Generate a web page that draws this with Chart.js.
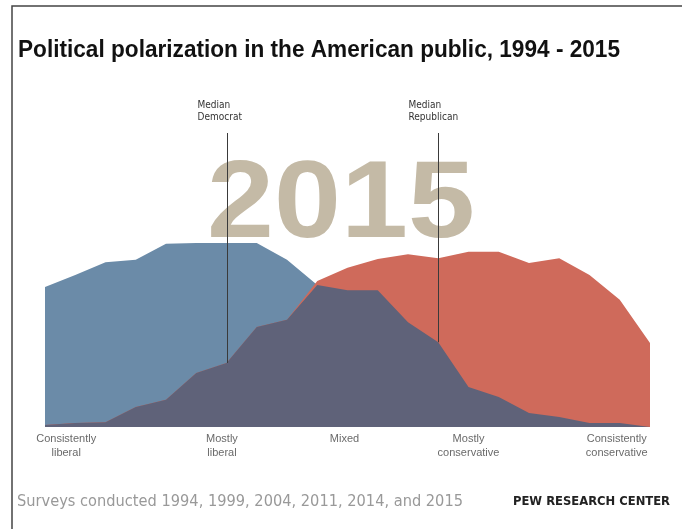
<!DOCTYPE html>
<html>
<head>
<meta charset="utf-8">
<script src="https://cdn.jsdelivr.net/npm/chart.js@4.4.1/dist/chart.umd.min.js"></script>
<style>
  body { margin: 0; background: #fff; }
  #wrap { width: 682px; height: 529px; }
</style>
</head>
<body>
<div id="wrap"><canvas id="chart" width="682" height="529"></canvas></div>
<script>
// Ideological consistency scale, -10 (consistently liberal) .. +10 (consistently conservative)
const scores = [-10, -9, -8, -7, -6, -5, -4, -3, -2, -1, 0, 1, 2, 3, 4, 5, 6, 7, 8, 9, 10];

// share of each party at each score
const demShare = [3.5, 3.8, 4.12, 4.18, 4.58, 4.6, 4.6, 4.6, 4.18, 3.55, 3.42, 3.42, 2.62, 2.12, 1.0, 0.75, 0.35, 0.25, 0.1, 0.1, 0.0];
const repShare = [0.05, 0.1, 0.12, 0.5, 0.68, 1.35, 1.6, 2.5, 2.68, 3.65, 3.98, 4.2, 4.32, 4.22, 4.38, 4.38, 4.1, 4.22, 3.8, 3.18, 2.1];

// where the bottom labels sit on the scale
const catLabels = [['Consistently', 'liberal'], ['Mostly', 'liberal'], ['Mixed'], ['Mostly', 'conservative'], ['Consistently', 'conservative']];
const catPos = [-9.3, -4.15, -0.1, 4.0, 8.9];

const medianLabels = [['Median', 'Democrat'], ['Median', 'Republican']];
const medianPos = [-4, 3];

const yearLabel = '2015';
const titleText = 'Political polarization in the American public, 1994 - 2015';
const noteText = 'Surveys conducted 1994, 1999, 2004, 2011, 2014, and 2015';
const sourceText = 'PEW RESEARCH CENTER';

// overlap = where both groups are present
const bothShare = demShare.map((v, i) => Math.min(v, repShare[i]));

const toPoints = arr => arr.map((v, i) => ({ x: scores[i], y: v }));

const narrow = '"Liberation Sans Narrow", "DejaVu Sans Condensed", Arial, sans-serif';
const sans = '"Liberation Sans", Arial, sans-serif';

// draw text squeezed/stretched to a given width
function fitText(ctx, text, x, y, width) {
    const w = ctx.measureText(text).width;
    ctx.save();
    ctx.translate(x, y);
    ctx.scale(width / w, 1);
    ctx.fillText(text, 0, 0);
    ctx.restore();
}

const decor = {
    id: 'decor',
    beforeDatasetsDraw(chart) {
        const ctx = chart.ctx;
        // big year behind the areas
        ctx.save();
        ctx.fillStyle = '#c4baa6';
        ctx.font = 'bold 110px ' + sans;
        ctx.textBaseline = 'alphabetic';
        fitText(ctx, yearLabel, 207, 237, 268);
        ctx.restore();
    },
    afterDatasetsDraw(chart) {
        const ctx = chart.ctx;
        const x = chart.scales.x, y = chart.scales.y;

        // median lines + labels
        ctx.save();
        ctx.strokeStyle = '#3a3a3a';
        ctx.lineWidth = 1;
        medianPos.forEach((m, k) => {
            const px = Math.round(x.getPixelForValue(m)) + 0.5;
            const idx = scores.indexOf(m);
            const py = y.getPixelForValue(bothShare[idx]);
            ctx.beginPath();
            ctx.moveTo(px, 133);
            ctx.lineTo(px, py);
            ctx.stroke();
            ctx.fillStyle = '#333';
            ctx.font = '10px ' + narrow;
            ctx.textAlign = 'left';
            ctx.textBaseline = 'middle';
            medianLabels[k].forEach((t, j) => ctx.fillText(t, px - 30, 105 + j * 12));
        });

        // bottom category labels
        ctx.fillStyle = '#6a6a6a';
        ctx.font = '11px ' + sans;
        ctx.textAlign = 'center';
        ctx.textBaseline = 'middle';
        catLabels.forEach((lines, k) => {
            const px = x.getPixelForValue(catPos[k]);
            lines.forEach((t, j) => ctx.fillText(t, px, 439 + j * 14));
        });
        ctx.restore();
    },
    afterDraw(chart) {
        const ctx = chart.ctx;
        ctx.save();
        // frame (top and left only)
        ctx.strokeStyle = '#444';
        ctx.lineWidth = 1.5;
        ctx.beginPath();
        ctx.moveTo(682, 6);
        ctx.lineTo(12, 6);
        ctx.lineTo(12, 529);
        ctx.stroke();

        // title
        ctx.fillStyle = '#111';
        ctx.font = 'bold 24px ' + sans;
        ctx.textBaseline = 'alphabetic';
        ctx.textAlign = 'left';
        fitText(ctx, titleText, 18, 57, 602);

        // footer
        ctx.fillStyle = '#999';
        ctx.font = '15.5px ' + narrow;
        fitText(ctx, noteText, 17, 506, 446);
        ctx.fillStyle = '#222';
        ctx.font = 'bold 12px ' + narrow;
        fitText(ctx, sourceText, 513, 505, 157);
        ctx.restore();
    }
};

const ctx = document.getElementById('chart').getContext('2d');
new Chart(ctx, {
    type: 'line',
    data: {
        datasets: [
            { label: 'Both', data: toPoints(bothShare), backgroundColor: '#5f6279', fill: 'origin' },
            { label: 'Republicans', data: toPoints(repShare), backgroundColor: '#cf6a5b', fill: 'origin' },
            { label: 'Democrats', data: toPoints(demShare), backgroundColor: '#6b8ba8', fill: 'origin' }
        ]
    },
    options: {
        responsive: false,
        animation: false,
        elements: {
            line: { borderWidth: 0, tension: 0 },
            point: { radius: 0, hoverRadius: 0 }
        },
        layout: { padding: { left: 45, right: 32, top: 227, bottom: 102 } },
        scales: {
            x: { type: 'linear', min: -10, max: 10, display: false },
            y: { min: 0, max: 5, display: false }
        },
        plugins: {
            legend: { display: false },
            tooltip: { enabled: false }
        }
    },
    plugins: [decor]
});
</script>
</body>
</html>
